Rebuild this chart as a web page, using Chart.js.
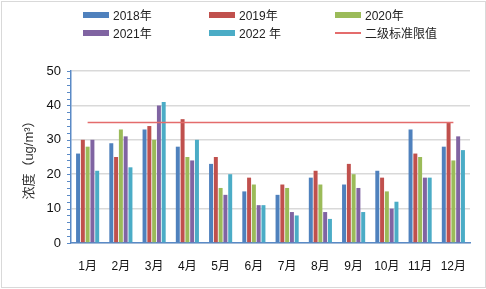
<!DOCTYPE html>
<html>
<head>
<meta charset="utf-8">
<script src="https://cdn.jsdelivr.net/npm/chart.js@4"></script>
<style>
  body { margin: 0; background: #fff; }
  #wrap { position: relative; width: 486px; height: 289px; font-family: "Liberation Sans", "Noto Sans CJK SC", sans-serif; }
  #frame { position: absolute; left: 1px; top: 1px; width: 483px; height: 285px; border: 1px solid #d9d9d9; }
  canvas { position: absolute; left: 0; top: 0; }
  .lg { position: absolute; font-size: 12px; color: #222; line-height: 14px; white-space: nowrap; }
  .lg span { display: inline-block; width: 26px; height: 6px; margin-right: 4px; vertical-align: 2px; }
</style>
</head>
<body>
<div id="wrap">
  <div id="frame"></div>
  <canvas id="pm" width="486" height="289"></canvas>
  <div id="legend"></div>
</div>
<script>
// months and yearly values (ug/m3)
var months = ['1月', '2月', '3月', '4月', '5月', '6月', '7月', '8月', '9月', '10月', '11月', '12月'];
var y2018 = [26, 29, 33, 28, 23, 15, 14, 19, 17, 21, 33, 28];
var y2019 = [30, 25, 34, 36, 25, 19, 17, 21, 23, 19, 26, 35];
var y2020 = [28, 33, 30, 25, 16, 17, 16, 17, 20, 15, 25, 24];
var y2021 = [30, 31, 40, 24, 14, 11, 9, 9, 16, 10, 19, 31];
var y2022 = [21, 22, 41, 30, 20, 11, 8, 7, 9, 12, 19, 27];
var limit = [35, 35, 35, 35, 35, 35, 35, 35, 35, 35, 35, 35];
var yTicks = [0, 10, 20, 30, 40, 50];

var seriesNames = ['2018年', '2019年', '2020年', '2021年', '2022 年'];
var seriesColors = ['#4F81BD', '#C0504D', '#9BBB59', '#8064A2', '#4BACC6'];
var limitName = '二级标准限值';
var limitColor = '#E46C6C';

// html legend, 3 columns
var legendPos = [[83, 9], [209, 9], [335, 9], [83, 27], [209, 27]];
var lgHtml = '';
seriesNames.forEach(function (n, i) {
  lgHtml += '<div class="lg" style="left:' + legendPos[i][0] + 'px;top:' + legendPos[i][1] + 'px">' +
    '<span style="background:' + seriesColors[i] + '"></span>' + n + '</div>';
});
lgHtml += '<div class="lg" style="left:335px;top:27px"><span style="height:2px;vertical-align:4px;background:' +
  limitColor + '"></span>' + limitName + '</div>';
document.getElementById('legend').innerHTML = lgHtml;

var minorTicks = {
  id: 'minorTicks',
  afterDraw(chart) {
    const { ctx, scales: { y }, chartArea: { left } } = chart;
    ctx.save();
    ctx.strokeStyle = '#5A8AC6';
    ctx.lineWidth = 1;
    for (let v = 0; v <= 50; v += 2) {
      const py = Math.round(y.getPixelForValue(v)) + 0.5;
      ctx.beginPath();
      ctx.moveTo(left - 4, py);
      ctx.lineTo(left, py);
      ctx.stroke();
    }
    ctx.restore();
  }
};

var allData = [y2018, y2019, y2020, y2021, y2022];
var datasets = allData.map(function (d, i) {
  return {
    label: seriesNames[i],
    data: d,
    backgroundColor: seriesColors[i],
    categoryPercentage: 0.72,
    barPercentage: 0.83,
    order: 1
  };
});
datasets.push({
  type: 'line',
  label: limitName,
  data: limit,
  borderColor: limitColor,
  borderWidth: 1.5,
  pointRadius: 0,
  order: 0
});

var font = { family: '"Liberation Sans", "Noto Sans CJK SC", sans-serif' };

new Chart(document.getElementById('pm'), {
  type: 'bar',
  data: { labels: months, datasets: datasets },
  options: {
    responsive: false,
    animation: false,
    layout: { padding: { left: 0, top: 71, right: 16, bottom: 0 } },
    plugins: { legend: { display: false }, tooltip: { enabled: false } },
    scales: {
      x: {
        grid: { display: false, drawTicks: false },
        border: { color: '#5A8AC6', width: 1.5 },
        ticks: { color: '#111', padding: 16, font: Object.assign({ size: 12 }, font), maxRotation: 0 },
        afterFit(scale) { scale.height = 46; }
      },
      y: {
        min: 0,
        max: 50,
        afterBuildTicks(scale) { scale.ticks = yTicks.map(function (v) { return { value: v }; }); },
        grid: { color: '#d9d9d9', lineWidth: 1.5, drawTicks: false },
        border: { color: '#5A8AC6', width: 1.5 },
        ticks: { color: '#111', padding: 10, font: Object.assign({ size: 13 }, font) },
        title: {
          display: true,
          text: '浓度（ug/m³）',
          color: '#333',
          font: Object.assign({ size: 13 }, font),
          padding: { top: 22, bottom: 0 }
        },
        afterFit(scale) { scale.width = 71; }
      }
    }
  },
  plugins: [minorTicks]
});
</script>
</body>
</html>
